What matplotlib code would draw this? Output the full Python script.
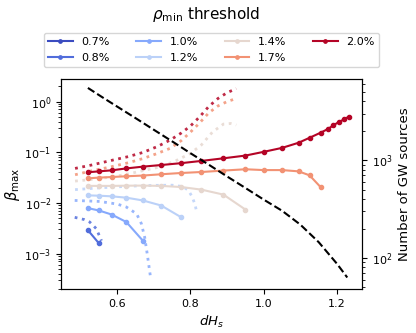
import numpy as np
import matplotlib
matplotlib.use("Agg")
import matplotlib.pyplot as plt

# thresholds shown in the legend
thresholds = [0.7, 0.8, 1.0, 1.2, 1.4, 1.7, 2.0]
labels = ["0.7%", "0.8%", "1.0%", "1.2%", "1.4%", "1.7%", "2.0%"]

# dH grid of the solid curves (markers)
dh_grid = [0.52, 0.55, 0.585, 0.625, 0.67, 0.72, 0.775, 0.83, 0.89, 0.95,
           1.0, 1.05, 1.095, 1.125, 1.155, 1.175, 1.19, 1.205, 1.22, 1.232]

# beta_max along the grid (solid lines), one list per threshold
beta_07 = []
beta_08 = [0.0029, 0.0016]
beta_10 = [0.0079, 0.0071, 0.0059, 0.0042, 0.0018]
beta_12 = [0.0141, 0.0139, 0.0135, 0.0127, 0.0112, 0.0089, 0.0052]
beta_14 = [0.0217, 0.0217, 0.0217, 0.0219, 0.0220, 0.0217, 0.0206, 0.0183,
           0.0146, 0.0074]
beta_17 = [0.0306, 0.0316, 0.0325, 0.0336, 0.0347, 0.0368, 0.039, 0.0408,
           0.0435, 0.0462, 0.0445, 0.0445, 0.042, 0.0351, 0.0206]
beta_20 = [0.0403, 0.042, 0.044, 0.048, 0.052, 0.056, 0.061, 0.0675, 0.076,
           0.086, 0.102, 0.122, 0.154, 0.193, 0.243, 0.287, 0.34, 0.395,
           0.448, 0.504]

# dotted curves
dot_x_08 = [0.484, 0.51, 0.525, 0.543, 0.557]
dot_y_08 = [0.0052, 0.0047, 0.0042, 0.0031, 0.0018]
dot_x_10 = [0.484, 0.552, 0.6, 0.625, 0.653, 0.666, 0.675, 0.682, 0.691]
dot_y_10 = [0.0112, 0.0107, 0.0095, 0.0083, 0.0061, 0.0039, 0.0021, 0.00098,
            0.00034]
dot_x_12 = [0.485, 0.55, 0.6, 0.65, 0.7, 0.75, 0.78, 0.795, 0.805, 0.812, 0.818]
dot_y_12 = [0.0183, 0.0198, 0.0208, 0.0216, 0.0222, 0.0224, 0.021, 0.0175,
            0.013, 0.0095, 0.0062]
dot_x_14 = [0.485, 0.55, 0.62, 0.68, 0.72, 0.76, 0.8, 0.83, 0.86, 0.89, 0.91,
            0.925]
dot_y_14 = [0.027, 0.03, 0.036, 0.045, 0.052, 0.068, 0.095, 0.14, 0.25, 0.36,
            0.37, 0.345]
dot_x_17 = [0.485, 0.53, 0.58, 0.63, 0.67, 0.71, 0.745, 0.775, 0.8, 0.825,
            0.85, 0.875, 0.9, 0.925]
dot_y_17 = [0.036, 0.043, 0.051, 0.062, 0.075, 0.095, 0.12, 0.17, 0.25, 0.38,
            0.6, 0.82, 1.0, 1.15]
dot_x_20 = [0.485, 0.53, 0.58, 0.63, 0.67, 0.71, 0.745, 0.775, 0.8, 0.825,
            0.85, 0.875, 0.9, 0.925]
dot_y_20 = [0.048, 0.056, 0.068, 0.082, 0.099, 0.13, 0.175, 0.24, 0.33, 0.5,
            0.8, 1.15, 1.5, 1.8]

# number of GW sources (right axis, dashed)
n_x = [0.52, 0.56, 0.6, 0.65, 0.7, 0.75, 0.8, 0.85, 0.9, 0.95, 1.0, 1.05,
       1.1, 1.15, 1.2, 1.228]
n_y = [5500, 4400, 3540, 2700, 2050, 1560, 1180, 900, 682, 520, 395, 304,
       219, 145, 87, 63]

solid = [beta_07, beta_08, beta_10, beta_12, beta_14, beta_17, beta_20]
dots = [([], []), (dot_x_08, dot_y_08), (dot_x_10, dot_y_10),
        (dot_x_12, dot_y_12), (dot_x_14, dot_y_14), (dot_x_17, dot_y_17),
        (dot_x_20, dot_y_20)]

fig = plt.figure(figsize=(4.16, 3.33), dpi=100)
ax = fig.add_axes([0.147, 0.132, 0.723, 0.631])

cmap = plt.get_cmap("coolwarm")
t = np.array(thresholds)
norm = (t - t.min()) / (t.max() - t.min())

for i in range(len(thresholds)):
    c = cmap(norm[i])
    vals = solid[i]
    ax.plot(dh_grid[:len(vals)], vals, "-o", color=c, lw=1.5, ms=3,
            label=labels[i])
    dx, dy = dots[i]
    ax.plot(dx, dy, ":", color=c, lw=2, alpha=0.85)

ax.set_yscale("log")
ax.set_xlim(0.447, 1.268)
ax.set_ylim(2.0e-4, 2.8)
ax.set_xticks([0.6, 0.8, 1.0, 1.2])
ax.tick_params(labelsize=8)
ax.set_xlabel("$dH_s$", fontsize=9.5)
ax.set_ylabel(r"$\beta_{\rm max}$", fontsize=10.5, labelpad=2)

ax2 = ax.twinx()
ax2.plot(n_x, n_y, "--", color="black", lw=1.5)
ax2.set_yscale("log")
ax2.set_ylim(48, 6800)
ax2.tick_params(labelsize=8)
ax2.set_ylabel("Number of GW sources", fontsize=9.5)

ax.legend(loc="lower center", bbox_to_anchor=(0.5, 1.03), ncol=4,
          fontsize=8, handlelength=2.2, columnspacing=2.4, markerscale=0.8)
fig.text(0.495, 0.955, r"$\rho_{\rm min}$ threshold", ha="center",
         va="center", fontsize=11)

fig.savefig("out.png", dpi=100)
